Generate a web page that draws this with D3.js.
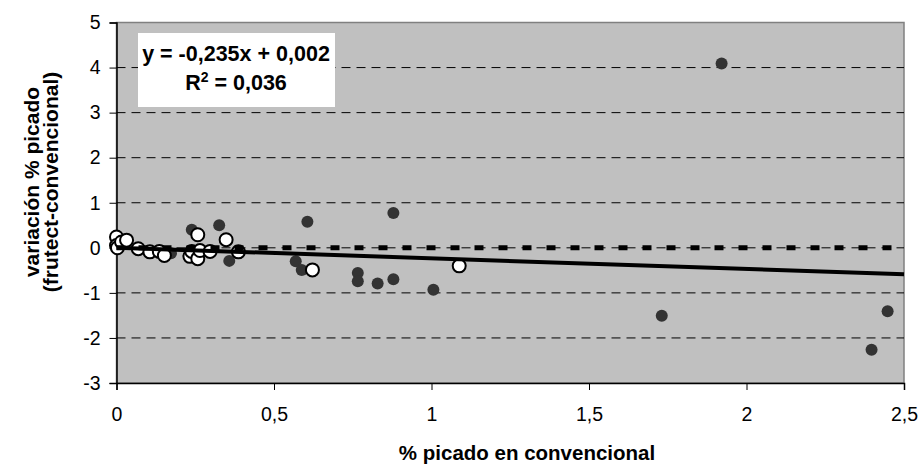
<!DOCTYPE html>
<html>
<head>
<meta charset="utf-8">
<script src="https://cdn.jsdelivr.net/npm/d3@7"></script>
<style>
  body { margin: 0; background: #fff; }
  svg { display: block; font-family: "Liberation Sans", Arial, sans-serif; }
</style>
</head>
<body>
<svg width="924" height="465"></svg>
<script>
// dark points (frutect series)
var darkX = [0.173, 0.239, 0.326, 0.358, 0.569, 0.588, 0.606, 0.766, 0.766, 0.829, 0.879, 0.879, 1.006, 1.731, 1.921, 2.397, 2.448];
var darkY = [-0.12, 0.40, 0.50, -0.29, -0.30, -0.49, 0.58, -0.56, -0.74, -0.79, 0.77, -0.70, -0.93, -1.51, 4.09, -2.26, -1.41];

// white points
var whiteX = [0.0, 0.0, 0.003, 0.016, 0.032, 0.069, 0.106, 0.136, 0.152, 0.233, 0.239, 0.258, 0.258, 0.265, 0.297, 0.348, 0.387, 0.622, 1.088];
var whiteY = [0.24, 0.05, 0.0, 0.13, 0.17, -0.02, -0.09, -0.08, -0.17, -0.19, -0.08, 0.29, -0.24, -0.06, -0.08, 0.18, -0.09, -0.49, -0.40];

var xTicks = [0, 0.5, 1, 1.5, 2, 2.5];
var yTicks = [-3, -2, -1, 0, 1, 2, 3, 4, 5];
var slope = -0.235, intercept = 0.002;
var eqText = "y = -0,235x + 0,002";
var r2Text = "0,036";

var svg = d3.select("svg");
var fmt = function(d) { return String(d).replace(".", ","); };

var x = d3.scaleLinear().domain([0, 2.5]).range([116.5, 904]);
var y = d3.scaleLinear().domain([-3, 5]).range([383, 22.5]);

// plot area
svg.append("rect")
  .attr("x", x(0)).attr("y", y(5))
  .attr("width", x(2.5) - x(0)).attr("height", y(-3) - y(5))
  .attr("fill", "#c0c0c0")
  .attr("stroke", "#808080")
  .attr("stroke-width", 1.5);

// grid lines
svg.append("g").selectAll("line")
  .data(yTicks.filter(function(d) { return d > -3 && d < 5; }))
  .enter().append("line")
  .attr("x1", x(0)).attr("x2", x(2.5))
  .attr("y1", function(d) { return y(d); })
  .attr("y2", function(d) { return y(d); })
  .attr("stroke", "#000")
  .attr("stroke-width", 1)
  .attr("stroke-dasharray", "9,6");

// axes
var yAxis = d3.axisLeft(y).tickValues(yTicks).tickFormat(fmt).tickSize(7).tickPadding(9);
var xAxis = d3.axisBottom(x).tickValues(xTicks).tickFormat(fmt).tickSize(7).tickPadding(17);

var gy = svg.append("g").attr("transform", "translate(" + x(0) + ",0)").call(yAxis);
var gx = svg.append("g").attr("transform", "translate(0," + y(-3) + ")").call(xAxis);
[gx, gy].forEach(function(g) {
  g.select(".domain").attr("stroke", "#000").attr("stroke-width", 1.5);
  g.selectAll(".tick line").attr("stroke", "#000");
  g.selectAll(".tick text")
    .attr("fill", "#000")
    .style("font-size", "19.5px")
    .style("font-family", "'Liberation Sans', Arial, sans-serif");
});

// points
svg.append("g").selectAll("circle")
  .data(d3.range(darkX.length))
  .enter().append("circle")
  .attr("cx", function(i) { return x(darkX[i]); })
  .attr("cy", function(i) { return y(darkY[i]); })
  .attr("r", 6)
  .attr("fill", "#333333");

svg.append("g").selectAll("circle")
  .data(d3.range(whiteX.length))
  .enter().append("circle")
  .attr("cx", function(i) { return x(whiteX[i]); })
  .attr("cy", function(i) { return y(whiteY[i]); })
  .attr("r", 6.5)
  .attr("fill", "#fff")
  .attr("stroke", "#000")
  .attr("stroke-width", 2);

// zero reference line
svg.append("line")
  .attr("x1", x(0)).attr("x2", x(2.5))
  .attr("y1", y(0)).attr("y2", y(0))
  .attr("stroke", "#000")
  .attr("stroke-width", 5)
  .attr("stroke-dasharray", "9,15")
  .attr("stroke-dashoffset", 2);

// trend line
var line = d3.line()
  .x(function(d) { return x(d); })
  .y(function(d) { return y(slope * d + intercept); });
svg.append("path")
  .datum([0, 2.5])
  .attr("d", line)
  .attr("fill", "none")
  .attr("stroke", "#000")
  .attr("stroke-width", 4);

// equation box
svg.append("rect")
  .attr("x", 138).attr("y", 33)
  .attr("width", 197).attr("height", 74)
  .attr("fill", "#fff");
svg.append("text")
  .attr("x", 236).attr("y", 61)
  .attr("text-anchor", "middle")
  .style("font-size", "21.5px").style("font-weight", "bold")
  .text(eqText);
var r2 = svg.append("text")
  .attr("x", 236).attr("y", 90)
  .attr("text-anchor", "middle")
  .style("font-size", "21.5px").style("font-weight", "bold");
r2.append("tspan").text("R");
r2.append("tspan").attr("dy", -8).style("font-size", "14px").text("2");
r2.append("tspan").attr("dy", 8).text(" = " + r2Text);

// axis titles
svg.append("text")
  .attr("x", 527).attr("y", 460)
  .attr("text-anchor", "middle")
  .style("font-size", "20.5px").style("font-weight", "bold")
  .text("% picado en convencional");

var yt = svg.append("text")
  .attr("transform", "translate(0,182) rotate(-90)")
  .attr("text-anchor", "middle")
  .style("font-size", "21px").style("font-weight", "bold");
yt.append("tspan").attr("x", 0).attr("y", 39).text("variación % picado");
yt.append("tspan").attr("x", 0).attr("y", 58).text("(frutect-convencional)");
</script>
</body>
</html>
